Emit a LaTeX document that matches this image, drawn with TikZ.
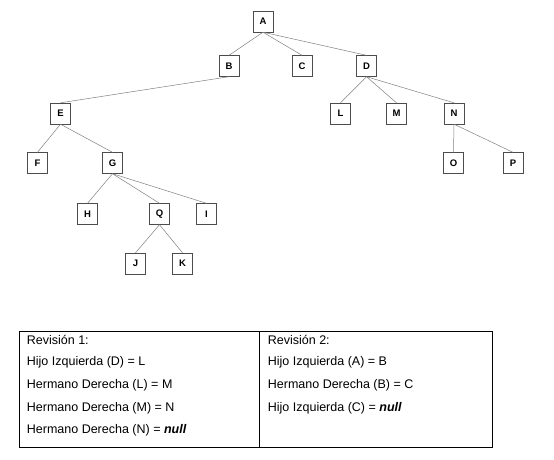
\documentclass[tikz,border=0pt]{standalone}
\usepackage{fontspec}
\setmainfont{Liberation Sans}
\usetikzlibrary{positioning}

\begin{document}
\begin{tikzpicture}[x=1pt, y=-1pt,
    treenode/.style={draw=black!70, fill=white, minimum width=20pt, minimum height=21pt,
        inner sep=0pt, font=\fontsize{9.5}{10}\selectfont\bfseries},
    treeedge/.style={draw=black!50, line width=0.5pt},
    rowtext/.style={anchor=west, inner sep=0pt, font=\fontsize{12.5}{14}\selectfont}]
    \useasboundingbox (0,0) rectangle (554,459);

    % tree nodes
    \node[treenode] (A) at (263,21.5) {A};
    \node[treenode] (B) at (229,66) {B};
    \node[treenode] (C) at (302,66) {C};
    \node[treenode] (D) at (366.5,66) {D};
    \node[treenode] (E) at (60.5,113.5) {E};
    \node[treenode] (L) at (340.5,113.5) {L};
    \node[treenode] (M) at (396.5,113.5) {M};
    \node[treenode] (N) at (454,113.5) {N};
    \node[treenode] (F) at (37.5,163) {F};
    \node[treenode] (G) at (112.5,163) {G};
    \node[treenode] (O) at (453.5,163) {O};
    \node[treenode] (P) at (513,163) {P};
    \node[treenode] (H) at (87.5,214) {H};
    \node[treenode] (Q) at (159.5,214) {Q};
    \node[treenode] (I) at (206.5,214) {I};
    \node[treenode] (J) at (135.5,263.5) {J};
    \node[treenode] (K) at (182.5,263.5) {K};

    % edges
    \foreach \parent/\child in {A/B, A/C, A/D, B/E, D/L, D/M, D/N, E/F, E/G,
        N/O, N/P, G/H, G/Q, G/I, Q/J, Q/K}
        \draw[treeedge] (\parent.south) -- (\child.north);

    % table
    \draw[line width=0.8pt] (19.5,331.5) rectangle (492,447);
    \draw[line width=0.8pt] (259.5,331.5) -- (259.5,447);

    \node[rowtext] (r1a) at (26.7,340) {Revisión 1:};
    \node[rowtext] (r1b) at (26.7,362.7) {Hijo Izquierda (D) = L};
    \node[rowtext] (r1c) at (26.7,385.3) {Hermano Derecha (L) = M};
    \node[rowtext] (r1d) at (26.7,408) {Hermano Derecha (M) = N};
    \node[rowtext] (r1e) at (26.7,430.6) {Hermano Derecha (N) = \textbf{\textit{null}}};

    \node[rowtext] (r2a) at (267.7,340) {Revisión 2:};
    \node[rowtext] (r2b) at (267.7,362.7) {Hijo Izquierda (A) = B};
    \node[rowtext] (r2c) at (267.7,385.3) {Hermano Derecha (B) = C};
    \node[rowtext] (r2d) at (267.7,408) {Hijo Izquierda (C) = \textbf{\textit{null}}};
\end{tikzpicture}
\end{document}
